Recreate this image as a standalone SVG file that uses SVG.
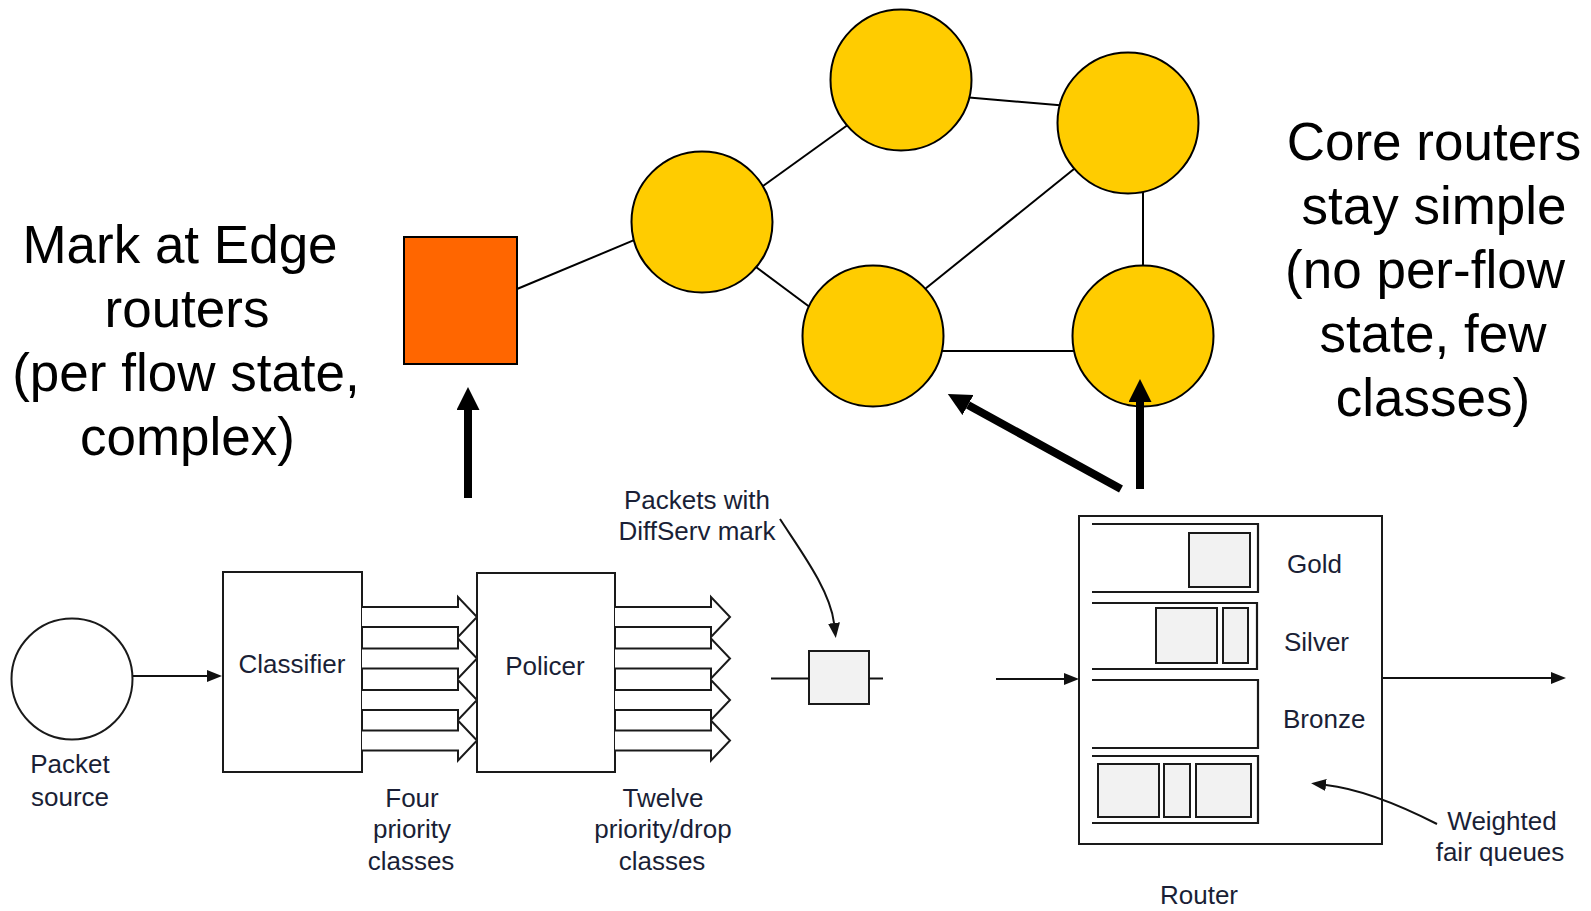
<svg xmlns="http://www.w3.org/2000/svg" width="1591" height="911" viewBox="0 0 1591 911">
<style>
.big{font-family:"Liberation Sans",Arial,sans-serif;font-size:53px;fill:#000;text-anchor:middle}
.sm{font-family:"Liberation Sans",Arial,sans-serif;font-size:26px;fill:#1a1f36}
.mid{text-anchor:middle}
.node{fill:#FFCC00;stroke:#000;stroke-width:2}
.edge{stroke:#000;stroke-width:2;fill:none}
.thick{stroke:#000;stroke-width:8;fill:none}
.box{fill:#fff;stroke:#1a1a1a;stroke-width:2}
.pkt{fill:#f2f2f2;stroke:#1a1a1a;stroke-width:2}
.q{fill:none;stroke:#1a1a1a;stroke-width:2.2}
.fat{fill:#fff;stroke:#1a1a1a;stroke-width:2;stroke-linejoin:miter}
.thin{stroke:#111;stroke-width:2;fill:none}
</style>
<defs>
<marker id="bigHead" markerUnits="userSpaceOnUse" markerWidth="24" markerHeight="24" refX="0" refY="11.5" orient="auto">
<path d="M0,0 L23,11.5 L0,23 z" fill="#000"/>
</marker>
<marker id="smHead" markerUnits="userSpaceOnUse" markerWidth="16" markerHeight="13" refX="0" refY="6" orient="auto">
<path d="M0,0 L15,6 L0,12 z" fill="#111"/>
</marker>
</defs>
<rect width="1591" height="911" fill="#fff"/>

<g id="edge-label">
<text class="big" x="180" y="263">Mark at Edge</text>
<text class="big" x="187" y="327">routers</text>
<text class="big" x="186" y="391">(per flow state,</text>
<text class="big" x="187.5" y="455">complex)</text>
</g>

<g id="core-label">
<text class="big" x="1434" y="160">Core routers</text>
<text class="big" x="1434" y="224">stay simple</text>
<text class="big" x="1425" y="288">(no per-flow</text>
<text class="big" x="1433" y="352">state, few</text>
<text class="big" x="1433" y="416">classes)</text>
</g>

<g id="edge-router"><rect x="404" y="237" width="113" height="127" fill="#FF6600" stroke="#000" stroke-width="2"/></g>
<g id="core1"><circle class="node" cx="901" cy="80" r="70.5"/></g>
<g id="core2"><circle class="node" cx="1128" cy="123" r="70.5"/></g>
<g id="core3"><circle class="node" cx="702" cy="222" r="70.5"/></g>
<g id="core4"><circle class="node" cx="873" cy="336" r="70.5"/></g>
<g id="core5"><circle class="node" cx="1143" cy="336" r="70.5"/></g>

<g id="packet-source">
<circle cx="72" cy="679" r="60.5" fill="#fff" stroke="#1a1a1a" stroke-width="2"/>
<text class="sm mid" x="70" y="773">Packet</text>
<text class="sm mid" x="70" y="806">source</text>
</g>

<g id="classifier">
<rect class="box" x="223" y="572" width="139" height="200"/>
<text class="sm mid" x="292" y="673">Classifier</text>
</g>

<g id="four-arrows">
<polyline class="fat" points="362,607 458,607 458,597 477,617 458,637 458,627 362,627"/>
<polyline class="fat" points="362,648.5 458,648.5 458,638.5 477,658.5 458,678.5 458,668.5 362,668.5"/>
<polyline class="fat" points="362,690 458,690 458,680 477,700 458,720 458,710 362,710"/>
<polyline class="fat" points="362,730.5 458,730.5 458,720.5 477,740.5 458,760.5 458,750.5 362,750.5"/>
<text class="sm mid" x="412" y="807">Four</text>
<text class="sm mid" x="412" y="838">priority</text>
<text class="sm mid" x="411" y="870">classes</text>
</g>

<g id="policer">
<rect class="box" x="477" y="573" width="138" height="199"/>
<text class="sm mid" x="545" y="675">Policer</text>
</g>

<g id="twelve-arrows">
<polyline class="fat" points="615,607 711,607 711,597 730,617 711,637 711,627 615,627"/>
<polyline class="fat" points="615,648.5 711,648.5 711,638.5 730,658.5 711,678.5 711,668.5 615,668.5"/>
<polyline class="fat" points="615,690 711,690 711,680 730,700 711,720 711,710 615,710"/>
<polyline class="fat" points="615,730.5 711,730.5 711,720.5 730,740.5 711,760.5 711,750.5 615,750.5"/>
<text class="sm mid" x="663" y="807">Twelve</text>
<text class="sm mid" x="663" y="838">priority/drop</text>
<text class="sm mid" x="662" y="870">classes</text>
</g>

<g id="marked-packet">
<rect class="pkt" x="809" y="651" width="60" height="53"/>
<text class="sm mid" x="697" y="509">Packets with</text>
<text class="sm mid" x="697" y="540">DiffServ mark</text>
</g>

<g id="router">
<rect class="box" x="1079" y="516" width="303" height="328"/>
<polyline class="q" points="1092,524 1258,524 1258,592 1092,592"/>
<rect class="pkt" x="1189" y="533" width="61" height="54"/>
<polyline class="q" points="1092,603 1257,603 1257,669 1092,669"/>
<rect class="pkt" x="1156" y="608" width="61" height="55"/>
<rect class="pkt" x="1223" y="608" width="25" height="55"/>
<polyline class="q" points="1092,680 1258,680 1258,748 1092,748"/>
<polyline class="q" points="1092,756 1258,756 1258,823 1092,823"/>
<rect class="pkt" x="1098" y="764" width="61" height="53"/>
<rect class="pkt" x="1164" y="764" width="26" height="53"/>
<rect class="pkt" x="1196" y="764" width="55" height="53"/>
<text class="sm" x="1287" y="573">Gold</text>
<text class="sm" x="1284" y="651">Silver</text>
<text class="sm" x="1283" y="728">Bronze</text>
<text class="sm mid" x="1199" y="904">Router</text>
</g>

<g id="wfq-label">
<text class="sm mid" x="1502" y="830">Weighted</text>
<text class="sm mid" x="1500" y="861">fair queues</text>
</g>

<g id="connectors">
<line class="edge" x1="517" y1="289" x2="634" y2="240.2"/>
<line class="edge" x1="763" y1="186" x2="847" y2="125.5"/>
<line class="edge" x1="969" y1="97.5" x2="1060" y2="105.3"/>
<line class="edge" x1="756" y1="267" x2="809" y2="306.5"/>
<line class="edge" x1="925" y1="289" x2="1074" y2="169"/>
<line class="edge" x1="1143" y1="192" x2="1143" y2="266"/>
<line class="edge" x1="941.5" y1="351" x2="1074.5" y2="351"/>
<line class="thick" x1="468" y1="498" x2="468" y2="410" marker-end="url(#bigHead)"/>
<line class="thick" x1="1121" y1="489" x2="968" y2="405" marker-end="url(#bigHead)"/>
<line class="thick" x1="1140" y1="489" x2="1140" y2="402" marker-end="url(#bigHead)"/>
<line class="thin" x1="133" y1="676" x2="207" y2="676" marker-end="url(#smHead)"/>
<path class="thin" d="M780,519 C800,550 830,590 834,623" marker-end="url(#smHead)"/>
<line class="thin" x1="771" y1="678.5" x2="809" y2="678.5"/>
<line class="thin" x1="869" y1="678.5" x2="883" y2="678.5"/>
<line class="thin" x1="996" y1="679" x2="1064" y2="679" marker-end="url(#smHead)"/>
<line class="thin" x1="1383" y1="678" x2="1551" y2="678" marker-end="url(#smHead)"/>
<path class="thin" d="M1437,824 Q1370,790 1326,785" marker-end="url(#smHead)"/>
</g>
</svg>
